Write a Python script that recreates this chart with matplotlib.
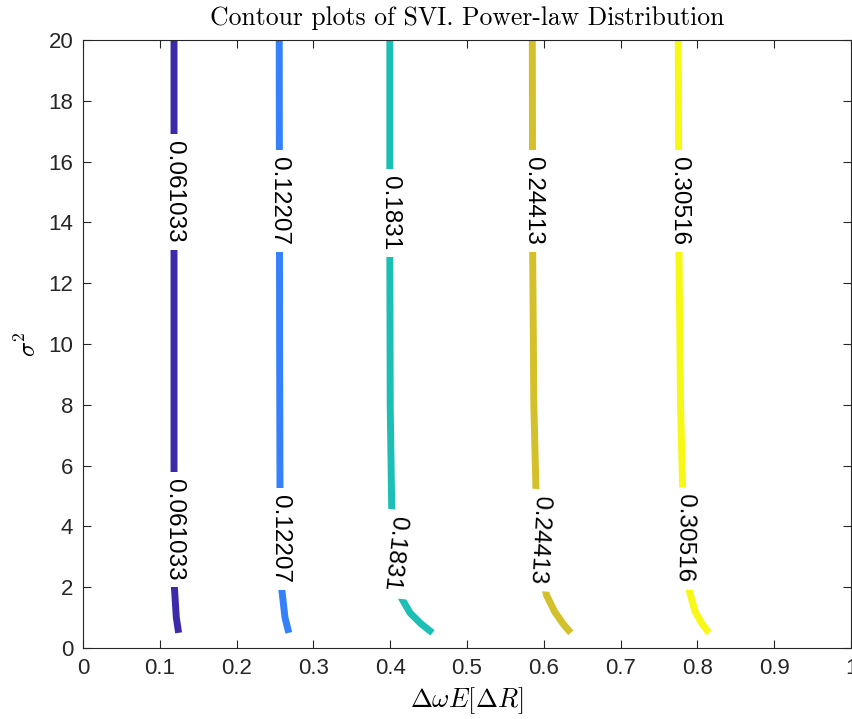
import matplotlib
matplotlib.use("Agg")
import matplotlib.pyplot as plt

plt.rcParams['mathtext.fontset'] = 'cm'
plt.rcParams['font.family'] = ['Liberation Sans', 'DejaVu Sans']

# contour levels and colours (parula-like)
levels = [0.061033, 0.12207, 0.1831, 0.24413, 0.30516]
level_text = ["0.061033", "0.12207", "0.1831", "0.24413", "0.30516"]
colors = ['#3b2ba9', '#3580fb', '#1bbfb5', '#d3c02a', '#f8f815']

# contour lines: sigma^2 values and matching x values
sig_1 = [0.5, 1.0, 2.0, 3.0, 5.0, 10.0, 20.0]
x_1 = [0.1245, 0.1215, 0.119, 0.1185, 0.1185, 0.1185, 0.1185]
sig_2 = [0.5, 1.0, 2.0, 3.0, 5.0, 10.0, 20.0]
x_2 = [0.268, 0.263, 0.2585, 0.257, 0.2565, 0.256, 0.2555]
sig_3 = [0.5, 0.8, 1.15, 1.63, 2.2, 3.0, 4.5, 8.0, 13.0, 20.0]
x_3 = [0.455, 0.44, 0.426, 0.415, 0.408, 0.405, 0.402, 0.400, 0.3995, 0.3995]
sig_4 = [0.5, 0.8, 1.2, 1.74, 2.5, 3.5, 5.0, 8.0, 13.0, 20.0]
x_4 = [0.635, 0.625, 0.614, 0.6035, 0.597, 0.593, 0.590, 0.587, 0.5855, 0.585]
sig_5 = [0.5, 0.8, 1.2, 1.82, 2.5, 3.5, 5.0, 8.0, 13.0, 20.0]
x_5 = [0.815, 0.806, 0.797, 0.790, 0.786, 0.783, 0.781, 0.778, 0.776, 0.775]

sigmas = [sig_1, sig_2, sig_3, sig_4, sig_5]
xs = [x_1, x_2, x_3, x_4, x_5]

# inline label spots (sigma^2) and tilt
label_upper = [15.0, 14.7, 14.3, 14.7, 14.7]
label_lower = [3.9, 3.6, 3.1, 3.55, 3.6]
lower_rot = [-90, -90, -96, -93, -91]

x_ticks = [0, 0.1, 0.2, 0.3, 0.4, 0.5, 0.6, 0.7, 0.8, 0.9, 1]
x_ticklabels = ["0", "0.1", "0.2", "0.3", "0.4", "0.5", "0.6", "0.7", "0.8", "0.9", "1"]
y_ticks = list(range(0, 21, 2))

fig = plt.figure(figsize=(8.53, 7.19), dpi=100)
ax = fig.add_axes([0.0973, 0.0987, 0.9004, 0.8457])

for sg, xv, c in zip(sigmas, xs, colors):
    ax.plot(xv, sg, color=c, lw=5, solid_capstyle='butt', zorder=2)

def x_at(sg, xv, s):
    for i in range(len(sg) - 1):
        if sg[i] <= s <= sg[i + 1]:
            t = (s - sg[i]) / (sg[i + 1] - sg[i])
            return xv[i] + t * (xv[i + 1] - xv[i])
    return xv[-1]

for i in range(len(levels)):
    for s, rot in ((label_upper[i], -90), (label_lower[i], lower_rot[i])):
        ax.text(x_at(sigmas[i], xs[i], s), s, level_text[i], rotation=rot,
                ha='center', va='center', fontsize=17.5, color='black', zorder=3,
                bbox=dict(facecolor='white', edgecolor='none', pad=5))

ax.set_xlim(0, 1)
ax.set_ylim(0, 20)
ax.set_xticks(x_ticks)
ax.set_xticklabels(x_ticklabels)
ax.set_yticks(y_ticks)
ax.tick_params(direction='in', top=True, right=True, labelsize=16,
               colors='#262626', length=6, width=0.8, pad=7)
for sp in ax.spines.values():
    sp.set_color('#262626')
    sp.set_linewidth(0.8)

ax.set_title("Contour plots of SVI. Power-law Distribution",
             fontfamily='cmr10', fontsize=18.5, color='black', pad=11)
ax.set_xlabel(r'$\Delta\omega E[\Delta R]$', fontsize=19, labelpad=5)
ax.set_ylabel(r'$\sigma^2$', fontsize=18, labelpad=5)

fig.savefig("out.png", dpi=100)
